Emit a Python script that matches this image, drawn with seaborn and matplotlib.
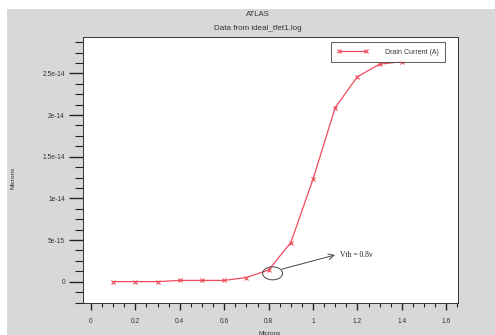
import matplotlib
matplotlib.use("Agg")
import matplotlib.pyplot as plt
from matplotlib.patches import Ellipse, Rectangle
from matplotlib.ticker import MultipleLocator
import seaborn as sns
import pandas as pd

gate_voltage = [0.1, 0.2, 0.3, 0.4, 0.5, 0.6, 0.7, 0.8, 0.9, 1.0, 1.1, 1.2, 1.3, 1.4]
drain_current = [0.0, 0.0, 0.0, 1.5e-16, 1.5e-16, 1.5e-16, 5.0e-16, 1.4e-15,
                 4.7e-15, 1.23e-14, 2.09e-14, 2.46e-14, 2.61e-14, 2.64e-14]
y_ticks = [0, 5e-15, 1e-14, 1.5e-14, 2e-14, 2.5e-14]
y_tick_labels = ["0", "5e-15", "1e-14", "1.5e-14", "2e-14", "2.5e-14"]
x_ticks = [0, 0.2, 0.4, 0.6, 0.8, 1.0, 1.2, 1.4, 1.6]
x_tick_labels = ["0", "0.2", "0.4", "0.6", "0.8", "1", "1.2", "1.4", "1.6"]

df = pd.DataFrame({"V": gate_voltage, "I": drain_current})

sns.set_style("ticks")
plt.rcParams["font.family"] = ["Liberation Sans", "DejaVu Sans"]

W, H = 495, 335
fig = plt.figure(figsize=(W / 100, H / 100), dpi=100)
fig.patch.set_facecolor("white")
# grey panel behind the plot
fig.patches.append(Rectangle((7 / W, 0), 1 - 7 / W, 1 - 9 / H,
                             transform=fig.transFigure, facecolor="#d8d8d8",
                             edgecolor="none", zorder=-10))

ax = fig.add_axes([83 / W, 1 - 302.5 / H, (458 - 83) / W, (302.5 - 36.7) / H])
ax.set_zorder(5)
ax.set_facecolor("white")

red = "#ee4a5a"
sns.lineplot(data=df, x="V", y="I", ax=ax, color=red, marker="x",
             markersize=3.5, markeredgewidth=0.8, markeredgecolor=red,
             linewidth=0.9, label="Drain Current (A)")

ax.set_xlim(-0.036, 1.653)
ax.set_ylim(-2.5e-15, 2.94e-14)
ax.set_xticks(x_ticks)
ax.set_xticklabels(x_tick_labels)
ax.set_yticks(y_ticks)
ax.set_yticklabels(y_tick_labels)
ax.xaxis.set_minor_locator(MultipleLocator(0.05))
ax.yaxis.set_minor_locator(MultipleLocator(1.25e-15))
ax.set_xlabel("")
ax.set_ylabel("")

for s in ax.spines.values():
    s.set_color("#333333")
    s.set_linewidth(0.7)

ax.tick_params(axis="y", which="major", length=10, width=1.0, pad=3,
               labelsize=4.8, colors="#222222", labelcolor="#333333")
ax.tick_params(axis="y", which="minor", length=5.5, width=0.8, colors="#222222")
ax.tick_params(axis="x", which="major", length=5, width=1.0, pad=6,
               labelsize=4.8, colors="#222222", labelcolor="#333333")
ax.tick_params(axis="x", which="minor", length=3, width=0.8, colors="#222222")

# threshold marker
ax.add_patch(Ellipse((0.818, 1.0e-15), width=0.09, height=1.56e-15,
                     fill=False, edgecolor="#444444", linewidth=0.7, zorder=5))
ax.annotate("", xy=(1.099, 3.2e-15), xytext=(0.859, 1.5e-15),
            arrowprops=dict(arrowstyle="->", color="#444444", lw=0.7,
                            shrinkA=0, shrinkB=0))
ax.text(1.122, 3.2e-15, "Vth = 0.8v", family=["Liberation Serif", "DejaVu Serif"],
        fontsize=5.5, va="center", ha="left", color="#222222")

leg = ax.legend(loc="upper right", bbox_to_anchor=(445 / W, 1 - 42 / H),
                bbox_transform=fig.transFigure, borderaxespad=0, frameon=True,
                fancybox=False, fontsize=5.0, handlelength=4.5, numpoints=2,
                borderpad=0.95, handletextpad=2.3)
leg.get_frame().set_edgecolor("#333333")
leg.get_frame().set_linewidth(0.7)
for t in leg.get_texts():
    t.set_color("#333333")

fig.text(258 / W, 1 - 14 / H, "ATLAS", ha="center", va="center",
         fontsize=5.6, color="#333333")
fig.text(258 / W, 1 - 29 / H, "Data from ideal_tfet1.log", ha="center",
         va="center", fontsize=5.8, color="#333333")
fig.text(13 / W, 1 - 178 / H, "Microns", rotation=90, ha="center",
         va="center", fontsize=4.6, color="#333333")
fig.text(270 / W, 1 - 331 / H, "Microns", ha="center", va="top",
         fontsize=4.6, color="#333333")

fig.savefig("out.png", dpi=100, facecolor=fig.get_facecolor())
